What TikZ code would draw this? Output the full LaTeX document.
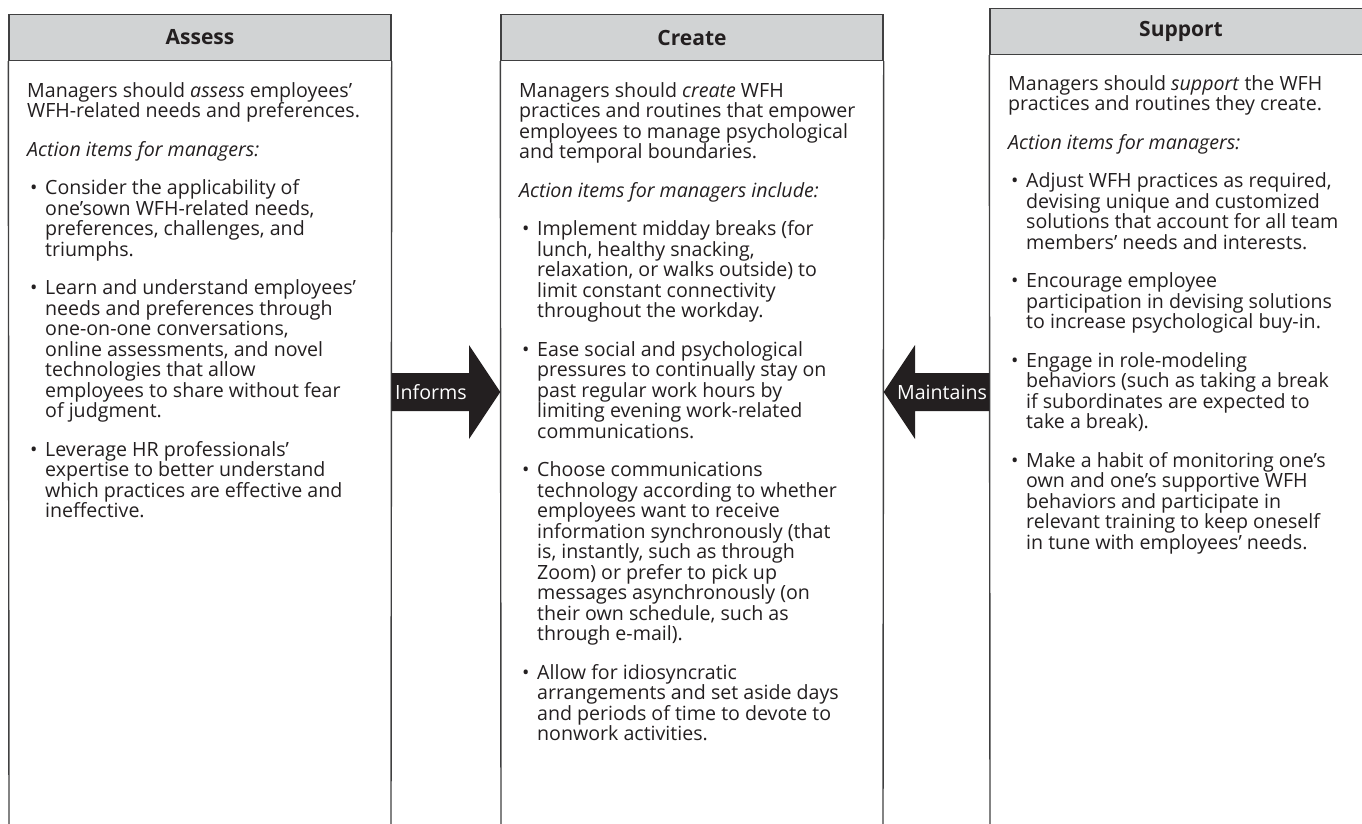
\documentclass[tikz,border=0pt]{standalone}
\usepackage{fontspec}
\setmainfont{Open Sans}
\definecolor{ink}{HTML}{231F20}
\definecolor{frame}{HTML}{404041}
\definecolor{headfill}{HTML}{D1D3D4}
\newcommand\wl[4]{\node[txt] (#1) at (#2,#3) {#4};}
\newcommand\bul[3]{\node[txt] (#1) at (#2,#3) {•};}
\begin{document}
\begin{tikzpicture}[x=1pt,y=-1pt,
  hdr/.style={draw=frame, fill=headfill, line width=1.4pt, minimum width=382pt,
    minimum height=46pt, inner sep=0pt, text=ink,
    font=\bfseries\fontsize{21}{24}\selectfont},
  side/.style={draw=frame, line width=1.4pt},
  txt/.style={anchor=base west, inner sep=0pt, text=ink,
    font=\fontsize{19.6}{21}\selectfont},
  blockarrow/.style={fill=ink, draw=none},
  arrowlabel/.style={inner sep=0pt, text=white, font=\fontsize{19.6}{21}\selectfont}]
\useasboundingbox (0,0) rectangle (1362,823);

% column frames: grey heading bars and open-bottomed bodies
\node[hdr] (assessHead) at (200,37.5) {Assess};
\draw[side] (assessHead.south west) -- (9,830);
\draw[side] (assessHead.south east) -- (391,830);
\node[hdr] (createHead) at (692,37.5) {Create};
\draw[side] (createHead.south west) -- (501,830);
\draw[side] (createHead.south east) -- (883,830);
\node[hdr] (supportHead) at (1181,31.5) {Support};
\draw[side] (supportHead.south west) -- (990,830);

% Assess column
\wl{a1}{27}{97}{Managers should \emph{assess} employees'}
\wl{a2}{27}{117.5}{WFH-related needs and preferences.}
\wl{a3}{27}{156}{\emph{Action items for managers:}}
\bul{ab1}{30}{194.5}
\wl{a4}{45}{194.5}{Consider the applicability of}
\wl{a5}{45}{215}{one'sown WFH-related needs,}
\wl{a6}{45}{235.5}{preferences, challenges, and}
\wl{a7}{45}{256}{triumphs.}
\bul{ab2}{30}{294.5}
\wl{a8}{45}{294.5}{Learn and understand employees'}
\wl{a9}{45}{315}{needs and preferences through}
\wl{a10}{45}{335.5}{one-on-one conversations,}
\wl{a11}{45}{356}{online assessments, and novel}
\wl{a12}{45}{376.5}{technologies that allow}
\wl{a13}{45}{397}{employees to share without fear}
\wl{a14}{45}{417.5}{of judgment.}
\bul{ab3}{30}{456}
\wl{a15}{45}{456}{Leverage HR professionals'}
\wl{a16}{45}{476.5}{expertise to better understand}
\wl{a17}{45}{497}{which practices are effective and}
\wl{a18}{45}{517.5}{ineffective.}

% Create column
\wl{c1}{519}{97}{Managers should \emph{create} WFH}
\wl{c2}{519}{117.5}{practices and routines that empower}
\wl{c3}{519}{138}{employees to manage psychological}
\wl{c4}{519}{158.5}{and temporal boundaries.}
\wl{c5}{519}{197}{\emph{Action items for managers include:}}
\bul{cb1}{522}{235.5}
\wl{c6}{537}{235.5}{Implement midday breaks (for}
\wl{c7}{537}{256}{lunch, healthy snacking,}
\wl{c8}{537}{276.5}{relaxation, or walks outside) to}
\wl{c9}{537}{297}{limit constant connectivity}
\wl{c10}{537}{317.5}{throughout the workday.}
\bul{cb2}{522}{356}
\wl{c11}{537}{356}{Ease social and psychological}
\wl{c12}{537}{376.5}{pressures to continually stay on}
\wl{c13}{537}{397}{past regular work hours by}
\wl{c14}{537}{417.5}{limiting evening work-related}
\wl{c15}{537}{438}{communications.}
\bul{cb3}{522}{476.5}
\wl{c16}{537}{476.5}{Choose communications}
\wl{c17}{537}{497}{technology according to whether}
\wl{c18}{537}{517.5}{employees want to receive}
\wl{c19}{537}{538}{information synchronously (that}
\wl{c20}{537}{558.5}{is, instantly, such as through}
\wl{c21}{537}{579}{Zoom) or prefer to pick up}
\wl{c22}{537}{599.5}{messages asynchronously (on}
\wl{c23}{537}{620}{their own schedule, such as}
\wl{c24}{537}{640.5}{through e-mail).}
\bul{cb4}{522}{679}
\wl{c25}{537}{679}{Allow for idiosyncratic}
\wl{c26}{537}{699.5}{arrangements and set aside days}
\wl{c27}{537}{720}{and periods of time to devote to}
\wl{c28}{537}{740.5}{nonwork activities.}

% Support column
\wl{s1}{1008}{90}{Managers should \emph{support} the WFH}
\wl{s2}{1008}{110.5}{practices and routines they create.}
\wl{s3}{1008}{149}{\emph{Action items for managers:}}
\bul{sb1}{1011}{187.5}
\wl{s4}{1026}{187.5}{Adjust WFH practices as required,}
\wl{s5}{1026}{208}{devising unique and customized}
\wl{s6}{1026}{228.5}{solutions that account for all team}
\wl{s7}{1026}{249}{members' needs and interests.}
\bul{sb2}{1011}{287.5}
\wl{s8}{1026}{287.5}{Encourage employee}
\wl{s9}{1026}{308}{participation in devising solutions}
\wl{s10}{1026}{328.5}{to increase psychological buy-in.}
\bul{sb3}{1011}{367}
\wl{s11}{1026}{367}{Engage in role-modeling}
\wl{s12}{1026}{387.5}{behaviors (such as taking a break}
\wl{s13}{1026}{408}{if subordinates are expected to}
\wl{s14}{1026}{428.5}{take a break).}
\bul{sb4}{1011}{467}
\wl{s15}{1026}{467}{Make a habit of monitoring one's}
\wl{s16}{1026}{487.5}{own and one's supportive WFH}
\wl{s17}{1026}{508}{behaviors and participate in}
\wl{s18}{1026}{528.5}{relevant training to keep oneself}
\wl{s19}{1026}{549}{in tune with employees' needs.}

% block arrows between the columns
\fill[blockarrow] (assessHead.east |- 0,373) -- (469,373) -- (469,345) -- (createHead.west |- 0,392)
  -- (469,439) -- (469,411) -- (assessHead.east |- 0,411) -- cycle;
\node[arrowlabel] (informs) at (431,392) {Informs};
\fill[blockarrow] (supportHead.west |- 0,373) -- (915,373) -- (915,345) -- (createHead.east |- 0,392)
  -- (915,439) -- (915,411) -- (supportHead.west |- 0,411) -- cycle;
\node[arrowlabel] (maintains) at (942,392) {Maintains};
\end{tikzpicture}
\end{document}
